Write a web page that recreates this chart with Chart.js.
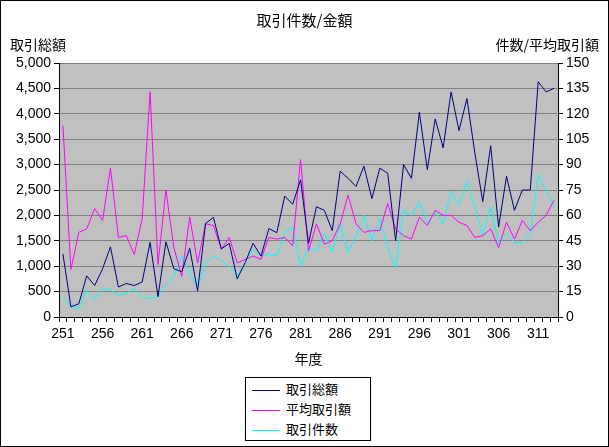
<!DOCTYPE html>
<html><head><meta charset="utf-8">
<script src="https://cdn.jsdelivr.net/npm/chart.js@4"></script>
<style>
body{margin:0;background:#fff;font-family:"Noto Sans CJK JP",sans-serif;}
#wrap{position:relative;width:609px;height:447px;}
#frame{position:absolute;left:0;top:0;width:607px;height:445px;border:1px solid #000;pointer-events:none;}
.t{position:absolute;white-space:nowrap;color:#000;}
#legend{position:absolute;left:245px;top:377px;width:124px;height:62px;border:1px solid #000;background:#fff;font-size:13px;}
.li{position:absolute;left:6px;height:20px;line-height:20px;}
.li span.s{display:inline-block;width:28px;height:0;border-top:1px solid;vertical-align:middle;margin-right:6px;}
</style></head><body>
<div id="wrap">
<canvas id="c" width="609" height="447"></canvas>
<div class="t" style="left:0;width:609px;top:9px;text-align:center;font-size:15px;">取引件数/金額</div>
<div class="t" style="left:10px;top:34px;font-size:14px;">取引総額</div>
<div class="t" style="right:10px;top:34px;font-size:14px;">件数/平均取引額</div>
<div class="t" style="left:59px;width:499px;top:348px;text-align:center;font-size:14px;">年度</div>
<div id="legend"></div>
<div id="frame"></div>
</div>
<script>
const years = [];
for (let y = 251; y <= 313; y++) years.push(String(y));
const totalAmount = [1240,200,260,810,620,950,1380,590,660,620,690,1470,400,1480,950,890,1350,510,1840,1960,1340,1450,750,1070,1450,1200,1740,1660,2380,2220,
 2700,1450,2170,2100,1700,2870,2730,2570,2970,2330,2930,2830,1500,3000,2730,4030,2900,3900,3330,4430,3670,4300,3230,2270,3370,1770,2770,2100,2500,2500,4630,4430,4500];
const avgAmount = [113,28,50,52,64,57,88,47,48,37,58,133,31,75,41,24,59,32,55,54,40,47,32,34,36,34,47,46,47,42,
 93,39,55,43,45,55,72,55,50,51,51,67,52,48,46,59,54,63,60,60,56,54,47,48,52,41,56,46,57,51,56,60,69];
const tradeCount = [12,6,5,16,10,17,16,13,14,17,12,11,12,19,24,36,26,17,32,36,33,30,24,32,40,36,37,36,50,53,
 30,41,39,49,38,55,38,48,60,45,58,41,29,63,60,68,55,62,55,74,66,80,65,48,65,43,49,44,44,49,84,75,65];
const leftTicks = [0,500,1000,1500,2000,2500,3000,3500,4000,4500,5000];
const rightTicks = [0,15,30,45,60,75,90,105,120,135,150];
const seriesNames = ['取引総額','平均取引額','取引件数'];
const seriesColors = ['#000080','#FF00FF','#00FFFF'];

const lg = document.getElementById('legend');
seriesNames.forEach((n,i)=>{
  const d=document.createElement('div');d.className='li';d.style.top=(1+i*20)+'px';
  d.innerHTML='<span class="s" style="border-color:'+seriesColors[i]+'"></span>'+n;lg.appendChild(d);
});

const font={family:"'Liberation Sans','Noto Sans CJK JP',sans-serif",size:14};
new Chart(document.getElementById('c'),{
  type:'line',
  data:{labels:years,datasets:[
    {label:seriesNames[0],data:totalAmount,yAxisID:'y',borderColor:seriesColors[0]},
    {label:seriesNames[1],data:avgAmount,yAxisID:'y2',borderColor:seriesColors[1]},
    {label:seriesNames[2],data:tradeCount,yAxisID:'y2',borderColor:seriesColors[2]}
  ]},
  options:{
    responsive:false,animation:false,devicePixelRatio:1,
    layout:{padding:{left:0,right:0,top:63,bottom:0}},
    elements:{point:{radius:0},line:{borderWidth:1,tension:0}},
    plugins:{legend:{display:false},title:{display:false},tooltip:{enabled:false}},
    scales:{
      x:{offset:true,grid:{offset:true,drawOnChartArea:false,color:'#000',tickLength:5},border:{color:'#000'},
         ticks:{autoSkip:false,maxRotation:0,color:'#000',font:font,padding:4,
           callback:(v,i)=> (i%5===0?years[i]:'')},
         afterFit:s=>{s.height=130;}},
      y:{position:'left',min:0,max:5000,afterBuildTicks:s=>{s.ticks=leftTicks.map(v=>({value:v}));},
         grid:{color:'#808080',tickLength:5,tickColor:'#000'},border:{color:'#000'},
         ticks:{color:'#000',font:font,padding:3},afterFit:s=>{s.width=59;}},
      y2:{position:'right',min:0,max:150,afterBuildTicks:s=>{s.ticks=rightTicks.map(v=>({value:v}));},
         grid:{drawOnChartArea:false,tickLength:5,color:'#000'},border:{color:'#000'},
         ticks:{color:'#000',font:font,padding:3},afterFit:s=>{s.width=51;}}
    }
  },
  plugins:[{id:'bg',beforeDraw(ch){const a=ch.chartArea,c=ch.ctx;c.save();c.fillStyle='#C0C0C0';c.fillRect(a.left,a.top,a.right-a.left,a.bottom-a.top);c.restore();}}]
});
</script>
</body></html>
